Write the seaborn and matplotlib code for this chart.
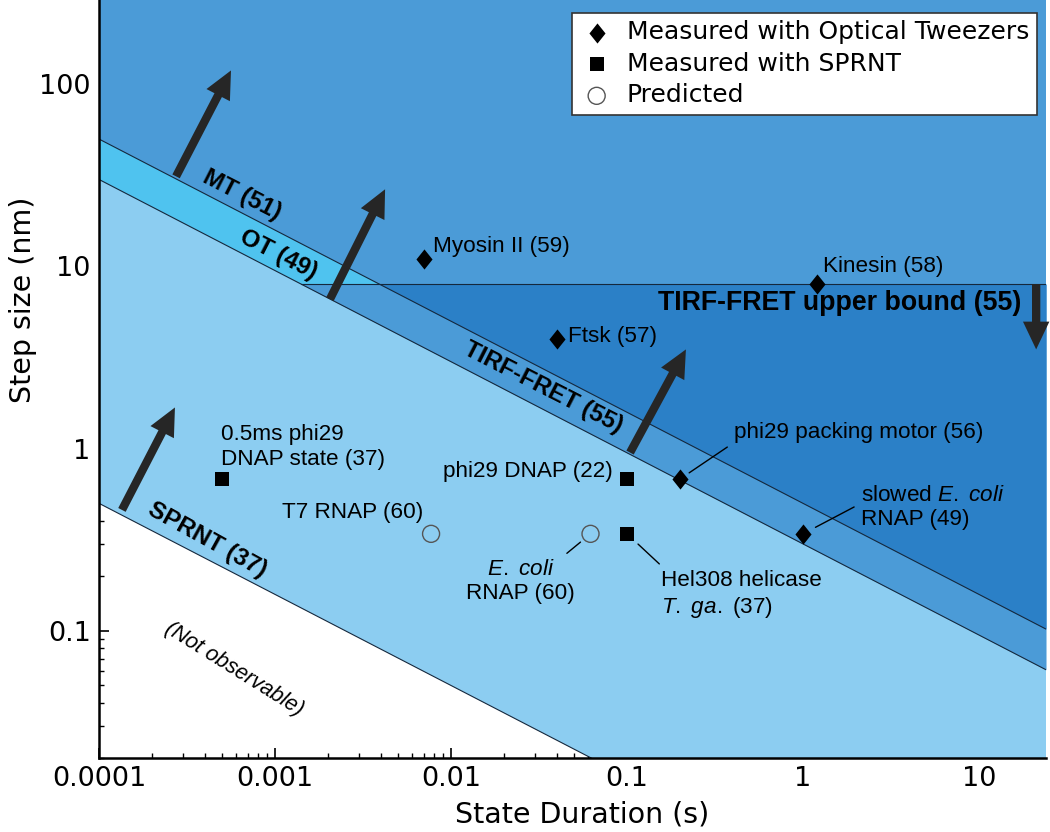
import numpy as np
import pandas as pd
import matplotlib
matplotlib.use("Agg")
import matplotlib.pyplot as plt
from matplotlib.path import Path
from matplotlib.ticker import LogLocator, FuncFormatter, NullFormatter
import seaborn as sns

# motors measured with optical tweezers
tweezer_names = ["Myosin II (59)", "Ftsk (57)", "Kinesin (58)",
                 "phi29 packing motor (56)", "slowed E. coli RNAP (49)"]
tweezer_time = [0.007, 0.04, 1.2, 0.2, 1.0]
tweezer_step = [11.0, 4.0, 8.0, 0.68, 0.34]

# motors measured with SPRNT
sprnt_names = ["0.5ms phi29 DNAP state (37)", "phi29 DNAP (22)", "Hel308 helicase T. ga. (37)"]
sprnt_time = [0.0005, 0.1, 0.1]
sprnt_step = [0.68, 0.68, 0.34]

# predicted
pred_names = ["T7 RNAP (60)", "E. coli RNAP (60)"]
pred_time = [0.0077, 0.062]
pred_step = [0.34, 0.34]

# detection limits: step size at the two ends of the time range
limit_time = [1e-4, 24]
mt_limit = [50.0, 0.102]
ot_limit = [30.0, 0.061]
sprnt_limit = [0.5, 0.00102]
tirf_upper = 8.0

LIGHT = "#8ccdf1"
CYAN = "#4fc3ef"
MEDIUM = "#4b9bd7"
DARK = "#2b80c7"
ARROW = "#262626"
EDGE = "#15283d"


def bound(t, limit):
    """Straight line (log-log) through the two end points of a limit."""
    return 10 ** np.interp(np.log10(t), np.log10(limit_time), np.log10(limit))


def main():
    sns.set_theme(style="ticks")
    plt.rcParams["font.family"] = ["DejaVu Sans"]
    plt.rcParams["text.color"] = "black"
    plt.rcParams["axes.labelcolor"] = "black"
    plt.rcParams["xtick.color"] = "black"
    plt.rcParams["ytick.color"] = "black"
    plt.rcParams["mathtext.fontset"] = "custom"
    plt.rcParams["mathtext.rm"] = "Liberation Sans"
    plt.rcParams["mathtext.it"] = "Liberation Sans:italic"

    fig = plt.figure(figsize=(10.5, 8.32), dpi=100)
    ax = fig.add_axes([0.0943, 0.089, 0.9019, 0.911])
    ax.set_xscale("log")
    ax.set_yscale("log")
    ax.set_xlim(1e-4, 24)
    ax.set_ylim(0.02, 290)

    t = np.geomspace(limit_time[0], limit_time[1], 600)
    top = 1e4
    mt_b = bound(t, mt_limit)
    ot_b = bound(t, ot_limit)
    sp_b = bound(t, sprnt_limit)

    ax.fill_between(t, sp_b, top, color=LIGHT, lw=0, zorder=1)
    ax.fill_between(t, ot_b, top, color=CYAN, lw=0, zorder=1)
    ax.fill_between(t, ot_b, tirf_upper, where=ot_b < tirf_upper, interpolate=True,
                    color=MEDIUM, lw=0, zorder=1)
    ax.fill_between(t, mt_b, top, color=MEDIUM, lw=0, zorder=1)
    ax.fill_between(t, mt_b, tirf_upper, where=mt_b < tirf_upper, interpolate=True,
                    color=DARK, lw=0, zorder=1)

    for b in (mt_b, ot_b, sp_b):
        ax.plot(t, b, color=EDGE, lw=0.8, zorder=2)
    t_cross = 10 ** np.interp(np.log10(tirf_upper), np.log10(ot_limit[::-1]),
                              np.log10(limit_time[::-1]))
    ax.plot([t_cross, limit_time[1]], [tirf_upper, tirf_upper], color=EDGE, lw=0.8, zorder=2)

    # arrows pointing into the observable region
    arrow_style = "simple,head_length=1.0,head_width=0.95,tail_width=0.3"
    arrows = [((2.74e-4, 31.2), (5.62e-4, 119)),
              ((2.05e-3, 6.6), (4.22e-3, 26.5)),
              ((0.104, 0.95), (0.216, 3.5)),
              ((1.35e-4, 0.46), (2.7e-4, 1.68)),
              ((21.1, 8.0), (21.1, 3.5))]
    for tail, head in arrows:
        ax.annotate("", xy=head, xytext=tail, zorder=3,
                    arrowprops=dict(arrowstyle=arrow_style, mutation_scale=20,
                                    color=ARROW, shrinkA=0, shrinkB=0, lw=0))

    # region labels
    bold = dict(family="Liberation Sans", fontweight="bold", fontsize=17.5,
                ha="center", va="center", rotation_mode="anchor", zorder=4)
    ax.text(6.5e-4, 24.6, "MT (51)", rotation=-27, **bold)
    ax.text(1.04e-3, 11.6, "OT (49)", rotation=-27, **bold)
    ax.text(0.0333, 2.16, "TIRF-FRET (55)", rotation=-27, **bold)
    ax.text(4.1e-4, 0.316, "SPRNT (37)", rotation=-29, **bold)
    ax.text(17.5, 6.26, "TIRF-FRET upper bound (55)", family="Liberation Sans",
            fontweight="bold", fontsize=19.3, ha="right", va="center", zorder=4)
    ax.text(5.85e-4, 0.061, "(Not observable)", family="Liberation Sans", style="italic",
            fontsize=15.5, rotation=-32, ha="center", va="center", rotation_mode="anchor")

    # points
    diamond = Path([(0, 0.5), (0.4, 0), (0, -0.5), (-0.4, 0), (0, 0.5)],
                   [Path.MOVETO, Path.LINETO, Path.LINETO, Path.LINETO, Path.CLOSEPOLY])
    df_tw = pd.DataFrame({"time": tweezer_time, "step": tweezer_step})
    df_sp = pd.DataFrame({"time": sprnt_time, "step": sprnt_step})
    df_pr = pd.DataFrame({"time": pred_time, "step": pred_step})
    sns.scatterplot(data=df_tw, x="time", y="step", marker=diamond, s=210, color="black",
                    edgecolor="black", linewidth=0, ax=ax, zorder=5,
                    label="Measured with Optical Tweezers")
    sns.scatterplot(data=df_sp, x="time", y="step", marker="s", s=90, color="black",
                    edgecolor="black", linewidth=0, ax=ax, zorder=5,
                    label="Measured with SPRNT")
    sns.scatterplot(data=df_pr, x="time", y="step", marker="o", s=150, facecolor="none",
                    edgecolor="#555555", linewidth=1.0, ax=ax, zorder=5,
                    label="Predicted")

    # point labels: (x, y, text, offset px, ha, leader relpos, leader shrink px)
    lab = dict(family="Liberation Sans", fontsize=16.2, va="center", zorder=6)
    labels = [
        (tweezer_time[0], tweezer_step[0], "Myosin II (59)", (9, 12), "left", None, 0),
        (tweezer_time[1], tweezer_step[1], "Ftsk (57)", (11, 2), "left", None, 0),
        (tweezer_time[2], tweezer_step[2], "Kinesin (58)", (6, 18), "left", None, 0),
        (tweezer_time[3], tweezer_step[3], "phi29 packing motor (56)", (54, 47), "left", (0, 0), 11),
        (tweezer_time[4], tweezer_step[4], "slowed $\\mathit{E.\\ coli}$\nRNAP (49)", (58, 26),
         "left", (0, 0.6), 14),
        (sprnt_time[0], sprnt_step[0], "0.5ms phi29\nDNAP state (37)", (-1, 32), "left", None, 0),
        (sprnt_time[1], sprnt_step[1], "phi29 DNAP (22)", (-14, 8), "right", None, 0),
        (sprnt_time[2], sprnt_step[2], "Hel308 helicase\n$\\mathit{T.\\ ga.}$ (37)", (34, -61),
         "left", (0.03, 1), 15),
        (pred_time[0], pred_step[0], "T7 RNAP (60)", (-8, 21), "right", None, 0),
        (pred_time[1], pred_step[1], "$\\mathit{E.\\ coli}$\nRNAP (60)", (-70, -48), "center",
         (0.86, 1), 13),
    ]
    for x, y, txt, off, ha, rel, shr in labels:
        kw = {}
        if rel is not None:
            kw["arrowprops"] = dict(arrowstyle="-", color="black", lw=1.0, relpos=rel,
                                    shrinkA=3, shrinkB=shr * 0.72)
        ax.annotate(txt, xy=(x, y), xytext=(off[0] * 0.72, off[1] * 0.72),
                    textcoords="offset points", ha=ha,
                    multialignment="center" if ha == "center" else "left", **lab, **kw)

    # axes styling
    for side in ("top", "right"):
        ax.spines[side].set_visible(False)
    for side in ("left", "bottom"):
        ax.spines[side].set_color("black")
        ax.spines[side].set_linewidth(1.8)
        ax.spines[side].set_zorder(7)
    ax.xaxis.set_major_locator(LogLocator(base=10, numticks=20))
    ax.yaxis.set_major_locator(LogLocator(base=10, numticks=20))
    ax.xaxis.set_minor_locator(LogLocator(base=10, subs=np.arange(2, 10), numticks=20))
    ax.yaxis.set_minor_locator(LogLocator(base=10, subs=np.arange(2, 10), numticks=20))
    fmt = FuncFormatter(lambda v, p: f"{v:g}")
    ax.xaxis.set_major_formatter(fmt)
    ax.yaxis.set_major_formatter(fmt)
    ax.xaxis.set_minor_formatter(NullFormatter())
    ax.yaxis.set_minor_formatter(NullFormatter())
    ax.tick_params(which="major", direction="in", length=7, width=1.2, colors="black",
                   labelsize=19.5, pad=6)
    ax.tick_params(which="minor", direction="in", length=3.5, width=1.0, colors="black")
    ax.set_xlabel("State Duration (s)", fontsize=20.5)
    ax.set_ylabel("Step size (nm)", fontsize=20.5)
    ax.xaxis.set_label_coords(0.51, -0.056)
    ax.yaxis.set_label_coords(-0.066, 0.605)

    leg = ax.legend(loc="upper right", bbox_to_anchor=(0.99, 0.983), borderaxespad=0,
                    fontsize=18, frameon=True, fancybox=False, framealpha=1,
                    edgecolor="#333333", borderpad=0.3, labelspacing=0.3,
                    handlelength=1.4, handletextpad=0.5)
    leg.get_frame().set_linewidth(1.2)
    leg.set_zorder(8)

    fig.savefig("out.png", dpi=100)
    plt.close(fig)


if __name__ == "__main__":
    main()
